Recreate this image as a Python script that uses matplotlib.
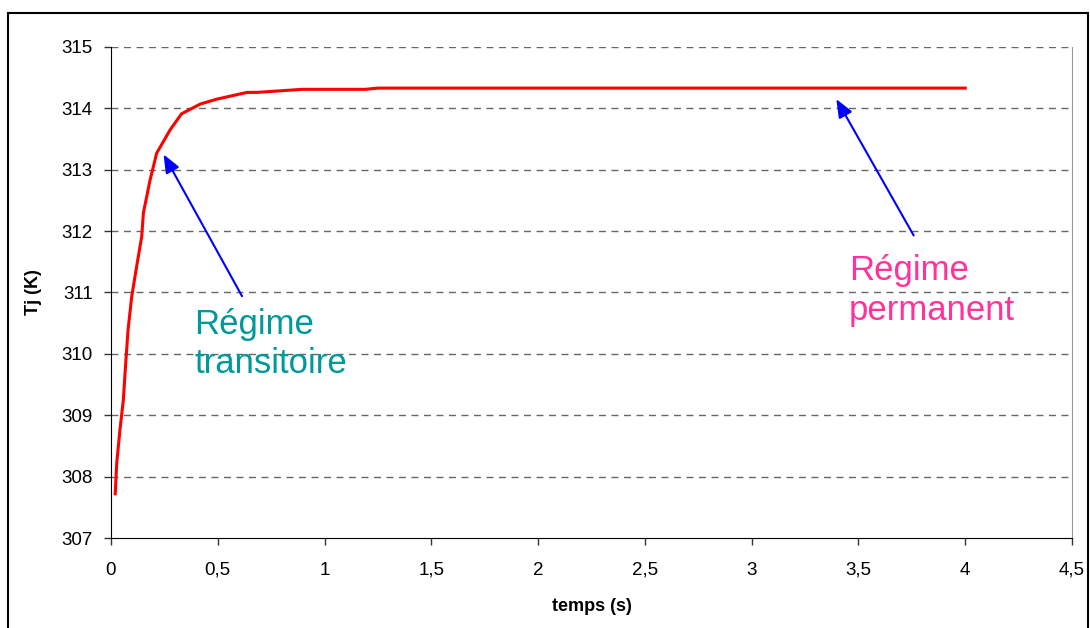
import matplotlib
matplotlib.use("Agg")
from matplotlib import pyplot as plt
from matplotlib.patches import Rectangle
from matplotlib.ticker import FuncFormatter
import numpy as np

# Junction temperature over time
temps_s = [0.02, 0.027, 0.042, 0.058, 0.066, 0.08, 0.097, 0.12, 0.144, 0.152,
           0.183, 0.214, 0.277, 0.33, 0.418, 0.496, 0.637, 0.684, 0.895,
           1.19, 1.25, 4.0]
tj_k = [307.72, 308.22, 308.76, 309.25, 309.69, 310.39, 310.93, 311.42,
        311.91, 312.30, 312.83, 313.27, 313.65, 313.91, 314.07, 314.15,
        314.26, 314.26, 314.31, 314.31, 314.33, 314.33]

x_ticks = np.arange(0, 4.51, 0.5)
y_ticks = np.arange(307, 315.1, 1)

plt.rcParams['font.family'] = ['Liberation Sans', 'DejaVu Sans']

fig = plt.figure(figsize=(10.9, 6.28), dpi=100)
ax = fig.add_axes([0.1018, 0.1433, 0.8817, 0.7819])

# outer frame of the chart
fig.patches.append(Rectangle((8 / 1090, -0.05), 1080 / 1090, 1 - 13 / 628 + 0.05,
                             transform=fig.transFigure, fill=False,
                             edgecolor='black', linewidth=1.5))

ax.plot(temps_s, tj_k, color='#ff0000', linewidth=2.2, zorder=3)

ax.set_xlim(0, 4.5)
ax.set_ylim(307, 315)
ax.set_xticks(x_ticks)
ax.set_yticks(y_ticks)
fmt = FuncFormatter(lambda v, p: ('%g' % v).replace('.', ','))
ax.xaxis.set_major_formatter(fmt)
ax.yaxis.set_major_formatter(fmt)
ax.tick_params(axis='both', labelsize=13.5, length=5, width=1, color='#333333',
               direction='out')
ax.tick_params(axis='x', pad=12)
ax.tick_params(axis='y', pad=8)

for y in y_ticks[1:]:
    ax.axhline(y, color='#666666', linestyle=(0, (5, 4)), linewidth=1, zorder=1)

ax.spines['top'].set_visible(False)
ax.spines['right'].set_color('#999999')
ax.spines['left'].set_color('black')
ax.spines['bottom'].set_color('black')

ax.set_xlabel('temps (s)', fontsize=13, fontweight='bold', labelpad=14)
ax.set_ylabel('Tj (K)', fontsize=13, fontweight='bold', labelpad=14)

arrow = dict(arrowstyle='-|>,head_length=1.1,head_width=0.45',
             color='#0000ff', lw=1.5)
ax.annotate('', xy=(0.24, 313.29), xytext=(0.62, 310.9), arrowprops=arrow)
ax.annotate('', xy=(3.39, 314.19), xytext=(3.765, 311.89), arrowprops=arrow)

ax.text(0.39, 310.75, 'Régime\ntransitoire', color='#009999', fontsize=25,
        va='top', ha='left', linespacing=1.25)
ax.text(3.455, 311.62, 'Régime\npermanent', color='#ff3399', fontsize=25,
        va='top', ha='left', linespacing=1.25)

fig.savefig('out.png', dpi=100)
